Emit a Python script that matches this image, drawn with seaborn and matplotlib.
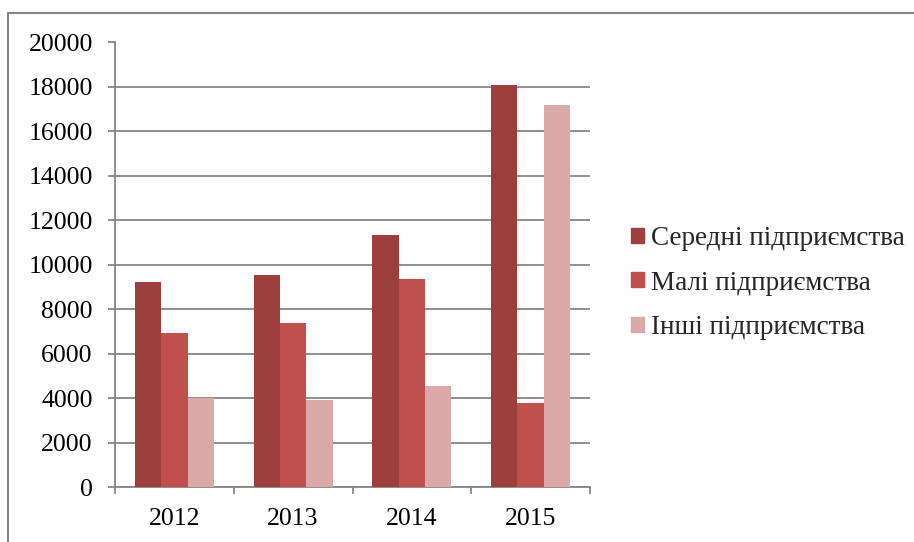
import pandas as pd
import matplotlib.pyplot as plt
import matplotlib.patches as mpatches
import matplotlib.lines as mlines
import seaborn as sns

# Data
years = ['2012', '2013', '2014', '2015']
series = ['Середні підприємства', 'Малі підприємства', 'Інші підприємства']
medium = [9230, 9540, 11320, 18100]
small = [6920, 7400, 9340, 3790]
other = [4010, 3910, 4540, 17170]
colors = ['#9E3F3E', '#C0504D', '#DBA9A8']

df = pd.DataFrame({
    'year': years * 3,
    'kind': [series[0]] * 4 + [series[1]] * 4 + [series[2]] * 4,
    'value': medium + small + other,
})

sns.set_theme(style="white")
plt.rcParams['font.family'] = ['Liberation Serif', 'DejaVu Serif']

fig = plt.figure(figsize=(9.14, 5.42), dpi=100)
ax = fig.add_axes([115 / 914, 1 - 487 / 542, 475 / 914, 444.5 / 542])

sns.barplot(data=df, x='year', y='value', hue='kind', palette=colors,
            width=0.665, gap=0, saturation=1, edgecolor='none',
            legend=False, ax=ax, zorder=3)

grid_col = '#868686'
ax.set_ylim(0, 20000)
ax.set_xlim(-0.5, 3.5)
ax.set_yticks(range(0, 20001, 2000))
ax.yaxis.grid(True, color=grid_col, linewidth=1.3, zorder=0)
ax.xaxis.grid(False)
ax.set_axisbelow(True)

for side in ['top', 'right']:
    ax.spines[side].set_visible(False)
for side in ['left', 'bottom']:
    ax.spines[side].set_color(grid_col)
    ax.spines[side].set_linewidth(1.3)

ax.tick_params(axis='y', which='major', direction='out', length=5, width=1.3,
               color=grid_col, left=True, pad=11, labelsize=18.5, labelcolor='black')
ax.set_xticks([-0.5, 0.5, 1.5, 2.5, 3.5], minor=True)
ax.tick_params(axis='x', which='minor', direction='out', length=5, width=1.3,
               color=grid_col, bottom=True)
ax.tick_params(axis='x', which='major', length=0, pad=15, labelsize=18.5, labelcolor='black')
ax.set_xlabel('')
ax.set_ylabel('')

# Legend on the right
handles = [mpatches.Patch(color=c, label=s) for c, s in zip(colors, series)]
fig.legend(handles=handles, loc='center left', bbox_to_anchor=(631 / 914, 1 - 283 / 542),
           frameon=False, prop={'family': ['Liberation Serif', 'DejaVu Serif'], 'size': 19.5},
           handlelength=0.48, handleheight=0.48,
           handletextpad=0.26, labelspacing=0.72, borderpad=0, borderaxespad=0)

# Outer frame (top and left edges visible)
fig.add_artist(mlines.Line2D([8 / 914, 8 / 914, 1], [0, 1 - 13 / 542, 1 - 13 / 542],
                             transform=fig.transFigure, color=grid_col, linewidth=1.5))

plt.savefig('out.png', dpi=100)
